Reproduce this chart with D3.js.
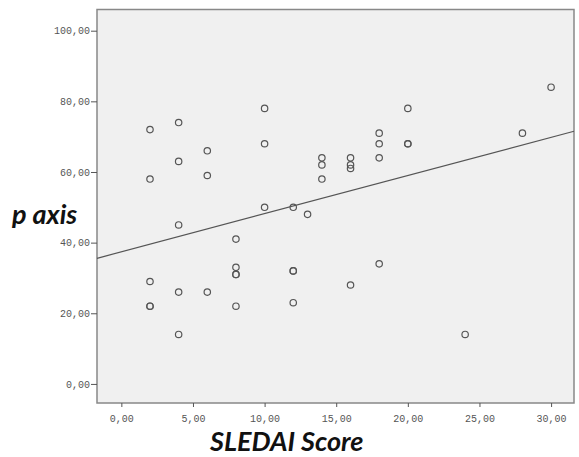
<!DOCTYPE html>
<html>
<head>
<meta charset="utf-8">
<script src="https://cdn.jsdelivr.net/npm/d3@7"></script>
<style>
  body { margin: 0; background: #fff; }
  .tickText { font-family: "Liberation Mono", monospace; font-size: 10px; fill: #555; }
  .axisTitle { font-family: Lato, "Open Sans", sans-serif; font-weight: 700; font-style: italic; font-size: 27px; fill: #111; }
</style>
</head>
<body>
<div id="chart"></div>
<script>
// data vars (SLEDAI score vs p axis)
const sledai = [2, 2, 2, 2, 2, 4, 4, 4, 4, 4, 6, 6, 6, 8, 8, 8, 8, 8,
  10, 10, 10, 12, 12, 12, 12, 13, 14, 14, 14, 16, 16, 16, 16,
  18, 18, 18, 18, 20, 20, 20, 24, 28, 30];
const pAxis = [72, 58, 29, 22, 22, 74, 63, 45, 26, 14, 66, 59, 26, 41, 33, 31, 31, 22,
  78, 68, 50, 50, 32, 32, 23, 48, 64, 62, 58, 64, 62, 61, 28,
  71, 68, 64, 34, 78, 68, 68, 14, 71, 84];
const xTicks = [0, 5, 10, 15, 20, 25, 30];
const yTicks = [0, 20, 40, 60, 80, 100];

// fit line
const fitIntercept = 37.4;
const fitSlope = 1.08;

// constants
const width = 579;
const height = 457;
const margin = {
  top: 9.5,
  right: 5,
  bottom: 54,
  left: 97
};

const fmt = d => d.toFixed(2).replace(".", ",");

const x = d3.scaleLinear()
  .domain([-1.7, 31.6])
  .range([margin.left, width - margin.right]);

const y = d3.scaleLinear()
  .domain([-5.4, 106])
  .range([height - margin.bottom, margin.top]);

const svg = d3.select("#chart")
  .append("svg")
  .attr("width", width)
  .attr("height", height);

// plot background
svg.append("rect")
  .attr("x", margin.left)
  .attr("y", margin.top)
  .attr("width", width - margin.left - margin.right)
  .attr("height", height - margin.top - margin.bottom)
  .attr("fill", "#f0f0f0")
  .attr("stroke", "#888")
  .attr("stroke-width", 1.5);

let xAxis = g => g
  .attr("transform", `translate(0, ${ height - margin.bottom })`)
  .call(d3.axisBottom(x).tickValues(xTicks).tickFormat(fmt).tickSize(4).tickSizeOuter(0))
  .call(g => g.select(".domain").remove())
  .call(g => g.selectAll(".tick line").attr("stroke", "#555"))
  .call(g => g.selectAll(".tick text").attr("class", "tickText").attr("dy", "1.2em"));

let yAxis = g => g
  .attr("transform", `translate(${ margin.left }, 0)`)
  .call(d3.axisLeft(y).tickValues(yTicks).tickFormat(fmt).tickSize(6).tickSizeOuter(0))
  .call(g => g.select(".domain").remove())
  .call(g => g.selectAll(".tick line").attr("stroke", "#555"))
  .call(g => g.selectAll(".tick text").attr("class", "tickText").attr("x", -7));

svg.append("g").call(xAxis);
svg.append("g").call(yAxis);

// fit line
const x0 = x.domain()[0];
const x1 = x.domain()[1];
svg.append("line")
  .attr("x1", x(x0))
  .attr("y1", y(fitIntercept + fitSlope * x0))
  .attr("x2", x(x1))
  .attr("y2", y(fitIntercept + fitSlope * x1))
  .attr("stroke", "#555")
  .attr("stroke-width", 1.2);

// points
svg.append("g")
  .selectAll("circle")
  .data(sledai.map((s, i) => ({ s: s, p: pAxis[i] })))
  .join("circle")
  .attr("cx", d => x(d.s))
  .attr("cy", d => y(d.p))
  .attr("r", 3.2)
  .attr("fill", "none")
  .attr("stroke", "#555")
  .attr("stroke-width", 1.2);

// axis titles
svg.append("text")
  .attr("class", "axisTitle")
  .attr("x", 12)
  .attr("y", 224)
  .text("p axis");

svg.append("text")
  .attr("class", "axisTitle")
  .attr("x", 210)
  .attr("y", 451)
  .text("SLEDAI Score");
</script>
</body>
</html>
